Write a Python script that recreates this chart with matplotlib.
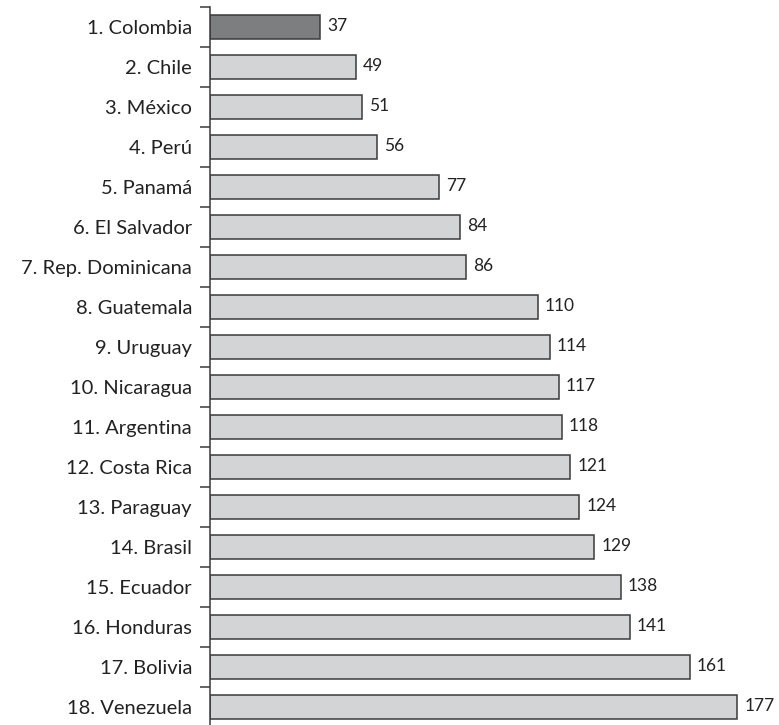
import matplotlib
matplotlib.use("Agg")
import matplotlib.pyplot as plt
import numpy as np

countries = ["1. Colombia", "2. Chile", "3. México", "4. Perú", "5. Panamá",
             "6. El Salvador", "7. Rep. Dominicana", "8. Guatemala", "9. Uruguay",
             "10. Nicaragua", "11. Argentina", "12. Costa Rica", "13. Paraguay",
             "14. Brasil", "15. Ecuador", "16. Honduras", "17. Bolivia", "18. Venezuela"]
values = [37, 49, 51, 56, 77, 84, 86, 110, 114, 117, 118, 121, 124, 129, 138, 141, 161, 177]
highlight = "1. Colombia"

plt.rcParams['font.family'] = ['Lato', 'DejaVu Sans']

W, H = 779, 725
fig = plt.figure(figsize=(W/100, H/100), dpi=100)
left = 210 / W
width = 566 / W
top = 1 - 6.5 / H
ax = fig.add_axes([left, 0, width, top])

y = np.arange(len(countries))
colors = ["#7d7e80" if c == highlight else "#d3d4d6" for c in countries]
ax.barh(y, values, height=0.6, color=colors, edgecolor="#3a3a3a", linewidth=1.1)

for yi, v in zip(y, values):
    ax.text(v + 2.3, yi - 0.02, str(v), va="center", ha="left", fontsize=12.5, color="#222222")

ax.set_xlim(0, 190)
ax.set_ylim(17.46, -0.5)
ax.set_yticks(y)
ax.set_yticklabels(countries, fontsize=14.5, color="#222222")
ax.tick_params(axis="y", which="major", length=0, pad=13)
ax.set_yticks(np.arange(-0.5, len(countries) - 0.5, 1.0), minor=True)
ax.tick_params(axis="y", which="minor", length=7, width=1.1, color="#3a3a3a")
ax.set_xticks([])
for s in ["top", "right", "bottom"]:
    ax.spines[s].set_visible(False)
ax.spines["left"].set_linewidth(1.1)
ax.spines["left"].set_color("#3a3a3a")

fig.savefig("out.png", dpi=100)
